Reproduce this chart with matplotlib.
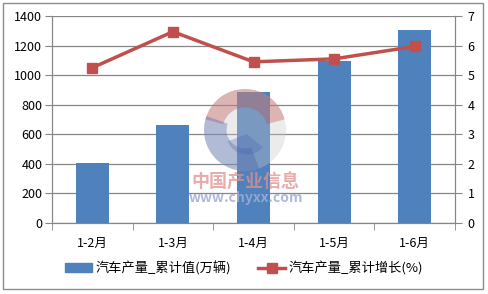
import matplotlib
matplotlib.use("Agg")
import matplotlib.pyplot as plt
from matplotlib.patches import Rectangle, Circle, Wedge
from matplotlib.lines import Line2D
import numpy as np

plt.rcParams['font.family'] = ['Noto Sans CJK SC', 'DejaVu Sans']

categories = ["1-2月", "1-3月", "1-4月", "1-5月", "1-6月"]
output_cum = [406, 663, 886, 1096, 1305]       # 万辆
growth_cum = [5.25, 6.47, 5.45, 5.55, 5.97]    # %

bar_color = "#4f81bd"
line_color = "#c0504d"
grid_color = "#868686"

W, H = 488, 294
fig = plt.figure(figsize=(W / 100, H / 100), dpi=100)
ax = fig.add_axes([52 / W, 1 - 223 / H, (455 - 52) / W, (223 - 16) / H])
ax2 = ax.twinx()

x = np.arange(len(categories))
ax.bar(x, output_cum, width=0.41, color=bar_color, zorder=2)
ax.set_xlim(-0.5, len(categories) - 0.5)
ax.set_ylim(0, 1400)
ax.set_yticks(range(0, 1401, 200))
ax.set_xticks(x)
ax.set_xticklabels(categories)
ax.set_xticks(np.arange(-0.5, len(categories), 1), minor=True)
ax.tick_params(axis='x', which='major', length=0, pad=10, labelsize=9)
ax.tick_params(axis='x', which='minor', length=5, color=grid_color)
ax.tick_params(axis='y', length=5, color=grid_color, labelsize=9, pad=2)
ax.grid(axis='y', color=grid_color, linewidth=0.9, zorder=0)
ax.set_axisbelow(True)

ax2.plot(x, growth_cum, color=line_color, linewidth=2.5, marker='s', markersize=7, zorder=3)
ax2.set_ylim(0, 7)
ax2.set_yticks(range(0, 8))
ax2.tick_params(axis='y', length=5, color=grid_color, labelsize=9, pad=4)

for a in (ax, ax2):
    a.spines['top'].set_visible(False)
    a.spines['left'].set_color(grid_color)
    a.spines['right'].set_color(grid_color)
    a.spines['bottom'].set_color(grid_color)

# watermark logo
wm = fig.add_axes([204 / W, 1 - 171 / H, 82 / W, 82 / H])
wm.set_xlim(-1, 1)
wm.set_ylim(-1, 1)
wm.axis('off')
wm.add_patch(Circle((0, 0), 1, color="#c8c8c8", alpha=0.35, lw=0))
wm.add_patch(Wedge((0, 0), 1, 15, 165, width=0.45, color="#c0504d", alpha=0.35, lw=0))
wm.add_patch(Wedge((0, 0), 1, 160, 290, width=0.55, color="#4a62b0", alpha=0.35, lw=0))
wm.add_patch(Wedge((0.05, -0.1), 0.5, 200, 320, color="#4a62b0", alpha=0.3, lw=0))

fig.text(245 / W, 1 - 182 / H, "中国产业信息", color="#e09090", fontsize=13, fontweight='bold',
         ha='center', va='center', alpha=0.75)
fig.text(246 / W, 1 - 198 / H, "www.chyxx.com", color="#a0acd6", fontsize=10, fontweight='bold',
         ha='center', va='center', alpha=0.85)

# outer border
fig.patches.append(Rectangle((3 / W, 5 / H), 480 / W, 286 / H, transform=fig.transFigure,
                             fill=False, edgecolor="#8c8c8c", linewidth=1))

handles = [Rectangle((0, 0), 1, 1, color=bar_color),
           Line2D([], [], color=line_color, linewidth=2.5, marker='s', markersize=7)]
fig.legend(handles, ["汽车产量_累计值(万辆)", "汽车产量_累计增长(%)"], loc='center',
           bbox_to_anchor=(244 / W, 1 - 268 / H), ncol=2, frameon=False, fontsize=9.5,
           handlelength=2.0, handletextpad=0.25, columnspacing=2.1)

fig.savefig("out.png", dpi=100)
